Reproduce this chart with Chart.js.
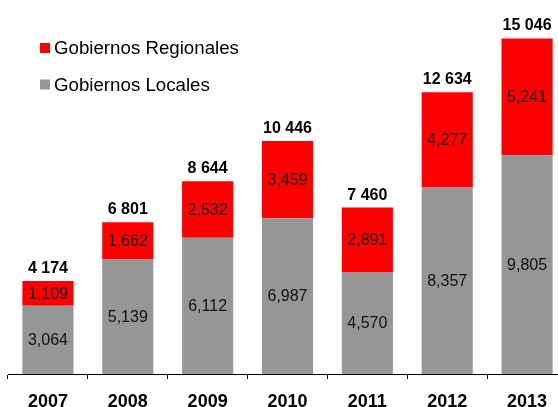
<!DOCTYPE html>
<html>
<head>
<meta charset="utf-8">
<script src="https://cdn.jsdelivr.net/npm/chart.js@4/dist/chart.umd.min.js"></script>
<style>
  html, body { margin: 0; padding: 0; overflow: hidden; background: #fff; }
  #wrap { position: relative; width: 575px; height: 407px; }
</style>
</head>
<body>
<div id="wrap"><canvas id="bar-chartcanvas"></canvas></div>
<script>
// chart values
var years = ["2007", "2008", "2009", "2010", "2011", "2012", "2013"];
var locales = [3064, 5139, 6112, 6987, 4570, 8357, 9805];
var regionales = [1109, 1662, 2532, 3459, 2891, 4277, 5241];
var totals = [4174, 6801, 8644, 10446, 7460, 12634, 15046];

var FONT = "'Liberation Sans', Arial, sans-serif";

//labels inside the segments and totals on top
var labelPlugin = {
    id: "barLabels",
    afterDatasetsDraw: function(chart) {
        var ctx = chart.ctx;
        ctx.save();
        ctx.textAlign = "center";
        ctx.fillStyle = "#111";
        ctx.font = "16px " + FONT;
        ctx.textBaseline = "middle";
        chart.data.datasets.forEach(function(ds, i) {
            var meta = chart.getDatasetMeta(i);
            meta.data.forEach(function(bar, j) {
                var y = (bar.y + bar.base) / 2 + 1;
                ctx.fillText(ds.data[j].toLocaleString("en-US"), bar.x, y);
            });
        });
        var top = chart.getDatasetMeta(chart.data.datasets.length - 1);
        ctx.font = "bold 16px " + FONT;
        ctx.textBaseline = "alphabetic";
        ctx.fillStyle = "#000";
        top.data.forEach(function(bar, j) {
            var txt = totals[j].toLocaleString("en-US").replace(",", " ");
            ctx.fillText(txt, bar.x, bar.y - 8);
        });
        ctx.restore();
    }
};

//legend drawn top-left, red first
var legendPlugin = {
    id: "sideLegend",
    afterDraw: function(chart) {
        var ctx = chart.ctx;
        ctx.save();
        ctx.font = "18.7px " + FONT;
        ctx.textBaseline = "alphabetic";
        var rows = chart.data.datasets.slice().reverse();
        rows.forEach(function(ds, k) {
            var y = 43 + k * 36.5;
            ctx.fillStyle = ds.backgroundColor;
            ctx.fillRect(40, y, 10, 10);
            ctx.fillStyle = "#000";
            ctx.fillText(ds.label, 54, y + 11);
        });
        ctx.restore();
    }
};

var ctx = document.getElementById("bar-chartcanvas");

var chart = new Chart(ctx, {
    type: "bar",
    data: {
        labels: years,
        datasets: [
            {
                label: "Gobiernos Locales",
                data: locales,
                backgroundColor: "#969696",
                categoryPercentage: 1,
                barPercentage: 0.64
            },
            {
                label: "Gobiernos Regionales",
                data: regionales,
                backgroundColor: "#ff0000",
                categoryPercentage: 1,
                barPercentage: 0.64
            }
        ]
    },
    options: {
        responsive: true,
        maintainAspectRatio: false,
        animation: false,
        layout: { padding: { left: 8, right: 8, top: 6, bottom: 0 } },
        plugins: {
            legend: { display: false },
            tooltip: { enabled: false }
        },
        scales: {
            x: {
                stacked: true,
                afterFit: function(scale) { scale.height = 33; },
                border: { display: true, color: "#000", width: 1 },
                grid: {
                    display: true,
                    offset: true,
                    drawOnChartArea: false,
                    tickLength: 5,
                    color: "#000"
                },
                ticks: {
                    color: "#000",
                    padding: 12,
                    font: { family: FONT, size: 18, weight: "bold" }
                }
            },
            y: {
                stacked: true,
                display: false,
                min: 0,
                max: 16500
            }
        }
    },
    plugins: [labelPlugin, legendPlugin]
});
</script>
</body>
</html>
